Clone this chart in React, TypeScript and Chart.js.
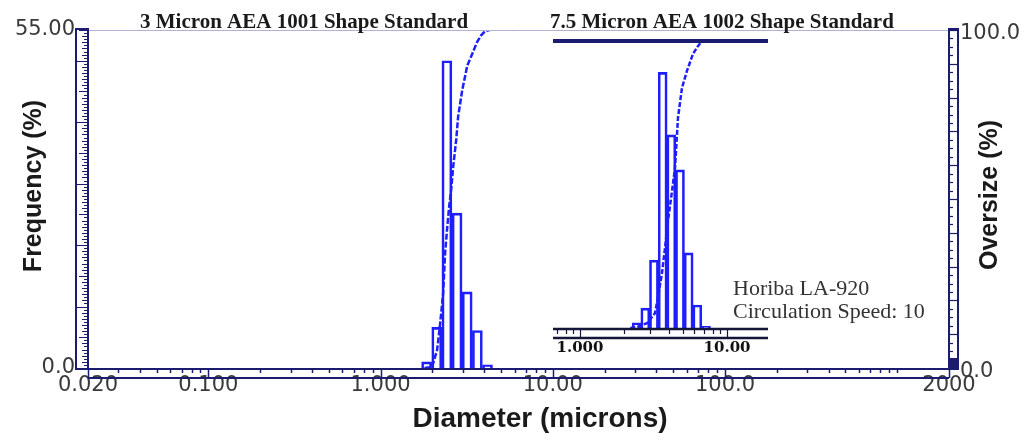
import React, { useEffect, useRef } from 'react';
import { Chart, registerables } from 'chart.js';

Chart.register(...registerables);

// ---------------- data ----------------
// main panel: 3 micron standard, histogram (frequency %) on Horiba size channels
const mainSizes = [1.851, 2.12, 2.428, 2.781, 3.185, 3.649, 4.179];
const mainFrequency = [1.0, 6.6, 50.0, 25.2, 12.4, 6.1, 0.5];
// main panel cumulative curve (right axis, %)
const mainCumSizes = [1.8, 1.99, 2.13, 2.22, 2.31, 2.37, 2.44, 2.5, 2.57, 2.64, 2.75, 2.82, 2.98, 3.19, 3.41, 3.64, 3.85, 4.05, 4.3];
const mainCumPercent = [0, 0.3, 5.3, 13.3, 22.2, 34.0, 41.7, 47.6, 52.7, 59.5, 67.5, 74.3, 82.2, 89.5, 93.0, 96.5, 98.5, 99.7, 100];

// inset panel: 7.5 micron standard
const insetSizes = [2.428, 2.781, 3.185, 3.649, 4.179, 4.786, 5.482, 6.279, 7.192];
const insetFrequency = [1.0, 3.8, 13.0, 49.0, 37.0, 30.3, 14.4, 4.4, 0.3];
const insetCumSizes = [2.2, 2.44, 2.86, 3.24, 3.39, 3.61, 3.79, 3.97, 4.23, 4.43, 4.64, 4.94, 5.34, 5.87, 6.3, 6.76];
const insetCumPercent = [0, 0.3, 1.7, 5.2, 10.8, 19.1, 28.1, 37.5, 47.9, 55.9, 73.3, 83.7, 89.6, 95.5, 98.0, 100];

// tick labels
const xTickValues = [0.02, 0.1, 1, 10, 100, 2000];
const xTickLabels = ['0.020', '0.100', '1.000', '10.00', '100.0', '2000'];
const insetTickValues = [1, 10];
const insetTickLabels = ['1.000', '10.00'];
const freqTickValues = [0, 55];
const freqTickLabels = ['0.0', '55.00'];
const overTickValues = [0, 100];
const overTickLabels = ['0.0', '100.0'];

// texts
const titleLeft = '3 Micron AEA 1001 Shape Standard';
const titleRight = '7.5 Micron AEA 1002 Shape Standard';
const noteLines = ['Horiba LA-920', 'Circulation Speed: 10'];
const xTitle = 'Diameter (microns)';
const yTitle = 'Frequency (%)';
const y1Title = 'Oversize (%)';

// ---------------- styling ----------------
const W = 1029;
const H = 447;
const NAVY = '#1b1b70';
const BLUE = '#1e1eff';
const LABEL = '#3a3a3a';

function logTicks(min: number, max: number, addEnds: boolean): number[] {
  const out: number[] = [];
  for (let e = Math.floor(Math.log10(min)); e <= Math.ceil(Math.log10(max)); e++) {
    for (let m = 1; m <= 9; m++) {
      const v = parseFloat((m * Math.pow(10, e)).toPrecision(6));
      if (v >= min * 0.9999 && v <= max * 1.0001) out.push(v);
    }
  }
  if (addEnds) {
    if (!out.some((v) => Math.abs(v - min) < min * 1e-6)) out.unshift(min);
    if (!out.some((v) => Math.abs(v - max) < max * 1e-6)) out.push(max);
  }
  return out;
}

function labelFor(values: number[], labels: string[], v: number): string {
  const i = values.findIndex((t) => Math.abs(t - v) <= 1e-6 * Math.max(1, Math.abs(t)));
  return i >= 0 ? labels[i] : '';
}

function line(ctx: CanvasRenderingContext2D, x1: number, y1: number, x2: number, y2: number) {
  ctx.beginPath();
  ctx.moveTo(x1, y1);
  ctx.lineTo(x2, y2);
  ctx.stroke();
}

const mainDecor = {
  id: 'mainDecor',
  afterDraw(chart: any) {
    const { ctx, chartArea: a } = chart;
    const xs = chart.scales.x;
    const ys = chart.scales.y;
    const ys1 = chart.scales.y1;
    ctx.save();
    // thin top frame line
    ctx.strokeStyle = '#b0b4d4';
    ctx.lineWidth = 1;
    line(ctx, a.left, a.top + 0.5, a.right, a.top + 0.5);

    ctx.strokeStyle = NAVY;
    // left ruler box
    ctx.lineWidth = 2;
    ctx.strokeRect(a.left - 12, a.top - 1, 12, a.bottom - a.top + 2);
    ctx.lineWidth = 1;
    for (let k = 0; k <= 110; k++) {
      const v = k * 0.5;
      const py = Math.round(ys.getPixelForValue(v)) + 0.5;
      const len = v % 10 === 0 ? 12 : v % 5 === 0 ? 9 : v % 1 === 0 ? 6 : 4;
      line(ctx, a.left - len, py, a.left, py);
    }
    // right ruler box
    ctx.lineWidth = 2;
    ctx.strokeRect(a.right, a.top - 1, 9, a.bottom - a.top + 2);
    ctx.lineWidth = 1.2;
    for (let k = 0; k <= 40; k++) {
      const v = k * 2.5;
      const py = Math.round(ys1.getPixelForValue(v)) + 0.5;
      const len = v % 10 === 0 ? 8 : 4;
      line(ctx, a.right, py, a.right + len, py);
    }
    ctx.fillStyle = NAVY;
    ctx.fillRect(a.right, a.bottom - 10, 8, 10);

    // right axis labels (drawn slightly below their values, as in the source)
    ctx.fillStyle = LABEL;
    ctx.font = '21px "DejaVu Sans"';
    ctx.textAlign = 'left';
    ctx.textBaseline = 'middle';
    overTickValues.forEach((v, i) => {
      ctx.fillText(overTickLabels[i], a.right + 11, ys1.getPixelForValue(v) + 4);
    });

    // x axis band
    ctx.strokeStyle = NAVY;
    ctx.lineWidth = 2;
    line(ctx, a.left - 12, a.bottom + 1, a.right + 9, a.bottom + 1);
    line(ctx, a.left, a.bottom + 10, a.right, a.bottom + 10);
    ctx.lineWidth = 1.5;
    for (const t of xs.ticks) {
      const px = Math.round(xs.getPixelForValue(t.value)) + 0.5;
      const major = labelFor(xTickValues, xTickLabels, t.value) !== '';
      line(ctx, px, a.bottom + 1, px, major ? a.bottom + 10 : a.bottom + 5);
    }

    // texts
    ctx.fillStyle = '#1a1a1a';
    ctx.textAlign = 'left';
    ctx.textBaseline = 'alphabetic';
    ctx.font = 'bold 21px "Liberation Serif"';
    ctx.fillText(titleLeft, 140, 28);
    ctx.fillText(titleRight, 550, 28);

    ctx.fillStyle = '#333';
    ctx.font = '22px "Liberation Serif"';
    ctx.fillText(noteLines[0], 733, 295);
    ctx.fillText(noteLines[1], 733, 318);

    ctx.fillStyle = '#1a1a1a';
    ctx.textAlign = 'center';
    ctx.textBaseline = 'middle';
    ctx.font = 'bold 28px "Liberation Sans"';
    ctx.fillText(xTitle, 540, 419);

    ctx.font = 'bold 25px "Liberation Sans"';
    ctx.save();
    ctx.translate(34, 186);
    ctx.rotate(-Math.PI / 2);
    ctx.fillText(yTitle, 0, 0);
    ctx.restore();
    ctx.save();
    ctx.translate(990, 195);
    ctx.rotate(-Math.PI / 2);
    ctx.fillText(y1Title, 0, 0);
    ctx.restore();

    ctx.restore();
  },
};

const insetDecor = {
  id: 'insetDecor',
  afterDraw(chart: any) {
    const { ctx, chartArea: a } = chart;
    const xs = chart.scales.x;
    ctx.save();
    ctx.strokeStyle = NAVY;
    ctx.lineWidth = 4;
    line(ctx, a.left, a.top, a.right, a.top);
    ctx.strokeStyle = '#15153a';
    ctx.lineWidth = 2.5;
    line(ctx, a.left, a.bottom + 1, a.right, a.bottom + 1);
    line(ctx, a.left, a.bottom + 10, a.right, a.bottom + 10);
    ctx.lineWidth = 1.2;
    for (const t of xs.ticks) {
      const px = Math.round(xs.getPixelForValue(t.value)) + 0.5;
      const major = labelFor(insetTickValues, insetTickLabels, t.value) !== '';
      line(ctx, px, a.bottom + 2, px, major ? a.bottom + 10 : a.bottom + 6);
    }
    ctx.restore();
  },
};

const hiddenGrid = { display: false, drawTicks: false, offset: false };

function mainConfig(): any {
  return {
    type: 'bar',
    data: {
      datasets: [
        {
          type: 'line',
          label: 'Oversize',
          data: mainCumSizes.map((s, i) => ({ x: s, y: mainCumPercent[i] })),
          xAxisID: 'x',
          yAxisID: 'y1',
          borderColor: BLUE,
          borderWidth: 2.5,
          borderDash: [6, 2],
          pointRadius: 0,
          fill: false,
          tension: 0,
        },
        {
          type: 'bar',
          label: 'Frequency',
          data: mainSizes.map((s, i) => ({ x: s, y: mainFrequency[i] })),
          xAxisID: 'x',
          yAxisID: 'y',
          backgroundColor: 'rgba(0,0,0,0)',
          borderColor: BLUE,
          borderWidth: 2,
          barThickness: 10,
        },
      ],
    },
    options: {
      responsive: false,
      animation: false,
      devicePixelRatio: 1,
      events: [],
      layout: { padding: { top: 30, left: 0, right: 0, bottom: 0 } },
      plugins: { legend: { display: false }, tooltip: { enabled: false }, title: { display: false } },
      scales: {
        x: {
          type: 'logarithmic',
          position: 'bottom',
          min: 0.02,
          max: 2000,
          offset: false,
          afterFit: (s: any) => {
            s.height = 79;
          },
          afterBuildTicks: (s: any) => {
            s.ticks = logTicks(0.02, 2000, true).map((v) => ({ value: v }));
          },
          grid: hiddenGrid,
          border: { display: false },
          ticks: {
            autoSkip: false,
            maxRotation: 0,
            minRotation: 0,
            padding: 5,
            color: LABEL,
            font: { family: 'DejaVu Sans', size: 21 },
            callback: (v: number) => labelFor(xTickValues, xTickLabels, v),
          },
        },
        y: {
          type: 'linear',
          position: 'left',
          min: 0,
          max: 55,
          afterFit: (s: any) => {
            s.width = 88;
          },
          afterBuildTicks: (s: any) => {
            s.ticks = freqTickValues.map((v) => ({ value: v }));
          },
          grid: hiddenGrid,
          border: { display: false },
          ticks: {
            padding: 13,
            color: LABEL,
            font: { family: 'DejaVu Sans', size: 21 },
            callback: (v: number) => labelFor(freqTickValues, freqTickLabels, v),
          },
        },
        y1: {
          type: 'linear',
          position: 'right',
          min: 0,
          max: 100,
          afterFit: (s: any) => {
            s.width = 80;
          },
          afterBuildTicks: (s: any) => {
            s.ticks = overTickValues.map((v) => ({ value: v }));
          },
          grid: hiddenGrid,
          border: { display: false },
          ticks: { display: false },
        },
      },
    },
    plugins: [mainDecor],
  };
}

function insetConfig(): any {
  return {
    type: 'bar',
    data: {
      datasets: [
        {
          type: 'line',
          label: 'Oversize 7.5',
          data: insetCumSizes.map((s, i) => ({ x: s, y: insetCumPercent[i] })),
          xAxisID: 'x',
          yAxisID: 'y1',
          borderColor: BLUE,
          borderWidth: 2.5,
          borderDash: [5, 2],
          pointRadius: 0,
          fill: false,
          tension: 0,
        },
        {
          type: 'bar',
          label: 'Frequency 7.5',
          data: insetSizes.map((s, i) => ({ x: s, y: insetFrequency[i] })),
          xAxisID: 'x',
          yAxisID: 'y',
          backgroundColor: 'rgba(0,0,0,0)',
          borderColor: BLUE,
          borderWidth: 2,
          barThickness: 9,
        },
      ],
    },
    options: {
      responsive: false,
      animation: false,
      devicePixelRatio: 1,
      events: [],
      layout: { padding: { top: 41, left: 553, right: 261, bottom: 0 } },
      plugins: { legend: { display: false }, tooltip: { enabled: false }, title: { display: false } },
      scales: {
        x: {
          type: 'logarithmic',
          position: 'bottom',
          min: 0.655,
          max: 19.0,
          offset: false,
          afterFit: (s: any) => {
            s.height = 119;
          },
          afterBuildTicks: (s: any) => {
            s.ticks = logTicks(0.655, 19.0, false).map((v) => ({ value: v }));
          },
          grid: hiddenGrid,
          border: { display: false },
          ticks: {
            autoSkip: false,
            maxRotation: 0,
            minRotation: 0,
            padding: 11,
            color: '#111',
            font: { family: 'DejaVu Serif', size: 15, weight: 'bold' },
            callback: (v: number) => labelFor(insetTickValues, insetTickLabels, v),
          },
        },
        y: { type: 'linear', display: false, min: 0, max: 55 },
        y1: { type: 'linear', display: false, min: 0, max: 100 },
      },
    },
    plugins: [insetDecor],
  };
}

export default function App() {
  const mainRef = useRef<HTMLCanvasElement>(null);
  const insetRef = useRef<HTMLCanvasElement>(null);

  useEffect(() => {
    const c1 = new Chart(mainRef.current as HTMLCanvasElement, mainConfig());
    const c2 = new Chart(insetRef.current as HTMLCanvasElement, insetConfig());
    return () => {
      c1.destroy();
      c2.destroy();
    };
  }, []);

  return (
    <div style={{ position: 'absolute', left: 0, top: 0, width: W, height: H, background: '#fff' }}>
      <canvas ref={mainRef} width={W} height={H} style={{ position: 'absolute', left: 0, top: 0 }} />
      <canvas
        ref={insetRef}
        width={W}
        height={H}
        style={{ position: 'absolute', left: 0, top: 0, pointerEvents: 'none' }}
      />
    </div>
  );
}
